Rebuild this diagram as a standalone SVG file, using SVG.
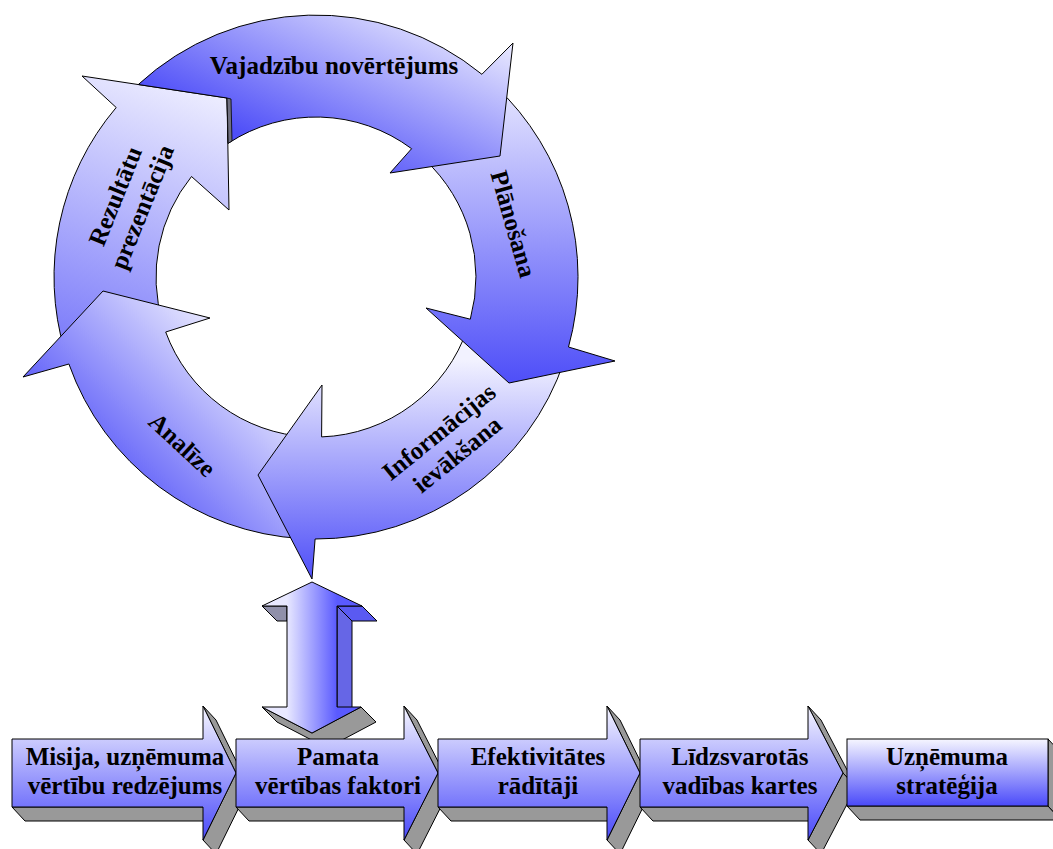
<svg xmlns="http://www.w3.org/2000/svg" width="1053" height="849" viewBox="0 0 1053 849">
  <defs>
    <!-- shading for the five cycle arrows -->
    <linearGradient id="gV" gradientUnits="userSpaceOnUse" x1="517" y1="34" x2="431" y2="222">
      <stop offset="0" stop-color="#f2f2ff"/><stop offset="1" stop-color="#4e4ef8"/>
    </linearGradient>
    <linearGradient id="gP" gradientUnits="userSpaceOnUse" x1="500" y1="63" x2="500" y2="383">
      <stop offset="0" stop-color="#f2f2ff"/><stop offset="1" stop-color="#4e4ef8"/>
    </linearGradient>
    <linearGradient id="gI" gradientUnits="userSpaceOnUse" x1="320" y1="360" x2="320" y2="580">
      <stop offset="0" stop-color="#f2f2ff"/><stop offset="1" stop-color="#4e4ef8"/>
    </linearGradient>
    <linearGradient id="gA" gradientUnits="userSpaceOnUse" x1="215" y1="300" x2="60" y2="455">
      <stop offset="0" stop-color="#f2f2ff"/><stop offset="1" stop-color="#4e4ef8"/>
    </linearGradient>
    <linearGradient id="gZ" gradientUnits="userSpaceOnUse" x1="230" y1="80" x2="83" y2="475">
      <stop offset="0" stop-color="#f4f4ff"/><stop offset="1" stop-color="#4e4ef8"/>
    </linearGradient>
    <!-- process row -->
    <linearGradient id="gRow" x1="0" y1="0" x2="0" y2="1">
      <stop offset="0" stop-color="#f6f6ff"/><stop offset="1" stop-color="#4a4afa"/>
    </linearGradient>
    <!-- double arrow face -->
    <linearGradient id="gShaft" gradientUnits="userSpaceOnUse" x1="287" y1="0" x2="337" y2="0">
      <stop offset="0" stop-color="#e8e8ff"/><stop offset="1" stop-color="#5a5aff"/>
    </linearGradient>
  </defs>
  <style>
    .edge{stroke:#000;stroke-width:1;stroke-linejoin:miter}
    .side{fill:#999999;stroke:#000;stroke-width:1}
    .lbl{font-family:"Liberation Serif","Times New Roman",serif;font-weight:bold;font-size:25px;fill:#000;text-anchor:middle}
  </style>

  <rect width="1053" height="849" fill="#ffffff"/>

  <!-- cycle: centre (316,277), outer r 262, inner r 160 -->
  <g id="node-rezultatu">
    <path class="edge" fill="url(#gZ)" d="M64.8,351.4 A262,262 0 0 1 116.2,107.5 L82,76 L227,98 L229,210 L191.5,176.5 A160,160 0 0 0 162.6,322.4 Z"/>
    <g transform="translate(128.5,201.5) rotate(-68)">
      <text class="lbl" x="0" y="-6">Rezultātu</text>
      <text class="lbl" x="0" y="23">prezentācija</text>
    </g>
  </g>

  <g id="node-analize">
    <path class="edge" fill="url(#gA)" d="M302.3,538.6 A262,262 0 0 1 68.9,364 L23,377 L103,291 L210,318 L165.7,332 A160,160 0 0 0 307.6,436.8 Z"/>
    <text class="lbl" transform="translate(182,445) rotate(43)" x="0" y="8">Analīze</text>
  </g>

  <g id="node-informacijas">
    <path class="edge" fill="url(#gI)" d="M564.5,360.1 A262,262 0 0 1 315.1,539 L312,579 L258,475 L322,385 L321.6,436.9 A160,160 0 0 0 467.7,327.8 Z"/>
    <g transform="translate(448,443) rotate(-39)">
      <text class="lbl" x="0" y="-6">Informācijas</text>
      <text class="lbl" x="0" y="23">ievākšana</text>
    </g>
  </g>

  <g id="node-planosana">
    <path class="edge" fill="url(#gP)" d="M494.7,85.4 A262,262 0 0 1 568.5,347 L615,361 L509,383 L426,308 L470.3,319.2 A160,160 0 0 0 425.1,160 Z"/>
    <text class="lbl" transform="translate(513,224) rotate(74)" x="0" y="8">Plānošana</text>
  </g>

  <g id="node-vajadzibu">
    <!-- tail follows the edges of the neighbouring arrowhead -->
    <path class="edge" fill="url(#gV)" d="M138.3,84.5 A262,262 0 0 1 481.9,74.3 L513,43 L500,156 L390,173 L411.6,148.7 A160,160 0 0 0 228.2,143.3 L227,98 Z"/>
    <polygon fill="#707080" stroke="#000" stroke-width="0.8" points="227,98 231,99 232,141 228.2,143.3"/>
    <text class="lbl" x="334" y="74">Vajadzību novērtējums</text>
  </g>

  <!-- two-way block arrow between the cycle and the process row -->
  <g id="connectors">
    <polygon fill="#9090aa" class="edge" points="262,606 287,606 287,621 277,621"/>
    <polygon fill="#5a5af2" class="edge" points="337,606 362,606 377,621 352,621"/>
    <polygon fill="#6666e6" class="edge" points="337,606 352,621 352,722 337,707"/>
    <polygon class="side" points="262,707 312,733 361,707 376,722 327,748 277,722"/>
    <polygon class="edge" fill="url(#gShaft)" points="312,582 362,606 337,606 337,707 361,707 312,733 262,707 287,707 287,606 262,606"/>
  </g>

  <!-- process row -->
  <g id="node-misija">
    <polygon class="side" points="12,807 203,807 216,821 25,821"/>
    <polygon class="side" points="203,706 236,773 249,787 216,720"/>
    <polygon class="side" points="236,773 203,840 216,854 249,787"/>
    <polygon class="edge" fill="url(#gRow)" points="12,739 203,739 203,706 236,773 203,840 203,807 12,807"/>
    <text class="lbl" x="125" y="765">Misija, uzņēmuma</text>
    <text class="lbl" x="125" y="794">vērtību redzējums</text>
  </g>

  <g id="node-pamata">
    <polygon class="side" points="236,807 404,807 417,821 249,821"/>
    <polygon class="side" points="404,706 438,773 451,787 417,720"/>
    <polygon class="side" points="438,773 404,840 417,854 451,787"/>
    <polygon class="edge" fill="url(#gRow)" points="236,739 404,739 404,706 438,773 404,840 404,807 236,807"/>
    <text class="lbl" x="338" y="765">Pamata</text>
    <text class="lbl" x="338" y="794">vērtības faktori</text>
  </g>

  <g id="node-efektivitates">
    <polygon class="side" points="438,807 607,807 620,821 451,821"/>
    <polygon class="side" points="607,706 640,773 653,787 620,720"/>
    <polygon class="side" points="640,773 607,840 620,854 653,787"/>
    <polygon class="edge" fill="url(#gRow)" points="438,739 607,739 607,706 640,773 607,840 607,807 438,807"/>
    <text class="lbl" x="538" y="765">Efektivitātes</text>
    <text class="lbl" x="538" y="794">rādītāji</text>
  </g>

  <g id="node-lidzsvarotas">
    <polygon class="side" points="640,807 808,807 821,821 653,821"/>
    <polygon class="side" points="808,706 843,773 856,787 821,720"/>
    <polygon class="side" points="843,773 808,840 821,854 856,787"/>
    <polygon class="edge" fill="url(#gRow)" points="640,739 808,739 808,706 843,773 808,840 808,807 640,807"/>
    <text class="lbl" x="740" y="765">Līdzsvarotās</text>
    <text class="lbl" x="740" y="794">vadības kartes</text>
  </g>

  <g id="node-strategija">
    <polygon class="side" points="847,806 1048,806 1061,820 860,820"/>
    <polygon class="side" points="1048,739 1061,753 1061,820 1048,806"/>
    <rect class="edge" fill="url(#gRow)" x="847" y="739" width="201" height="67"/>
    <text class="lbl" x="947" y="765">Uzņēmuma</text>
    <text class="lbl" x="947" y="794">stratēģija</text>
  </g>
</svg>
